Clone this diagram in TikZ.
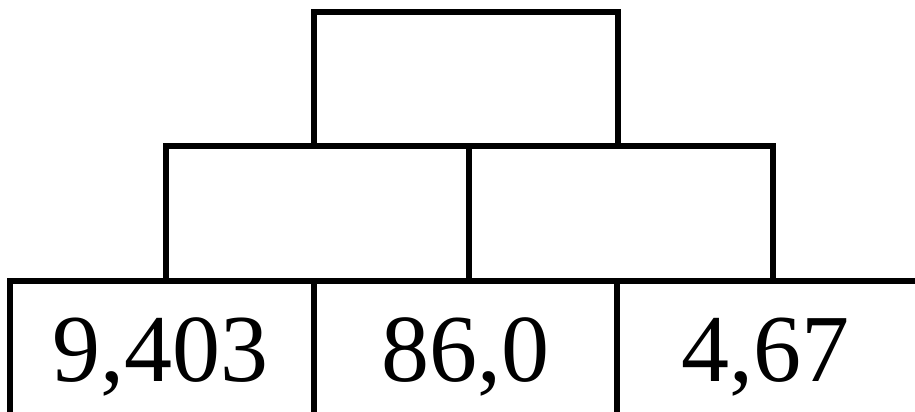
\documentclass[tikz,border=0pt]{standalone}
\usepackage{fontspec}
\setmainfont{Liberation Serif}
\begin{document}
\begin{tikzpicture}[x=1pt,y=1pt,
  cell/.style={draw=black,line width=6pt,rectangle,inner sep=0pt,minimum width=#1},
  cell/.default=304pt,
  num/.style={anchor=base,inner sep=0pt,font=\fontsize{96}{100}\selectfont}]
\useasboundingbox (0,0) rectangle (915,412);
\clip (0,0) rectangle (915,412);
% top
\node[cell=304pt,minimum height=134pt] (top) at (466,333) {};
% middle row
\node[cell=303.5pt,minimum height=135pt] (ml) at (317.25,198.5) {};
\node[cell=304pt,minimum height=135pt] (mr) at (621,198.5) {};
% bottom row
\node[cell=304pt,minimum height=151pt] (bl) at (162,55.5) {};
\node[cell=303pt,minimum height=151pt] (bm) at (465.5,55.5) {};
\node[cell=304pt,minimum height=151pt] (br) at (769,55.5) {};
% numbers
\node[num] (t1) at (160,30) {9,403};
\node[num] (t2) at (465.5,30) {86,0};
\node[num] (t3) at (765,30) {4,67};
\end{tikzpicture}
\end{document}
